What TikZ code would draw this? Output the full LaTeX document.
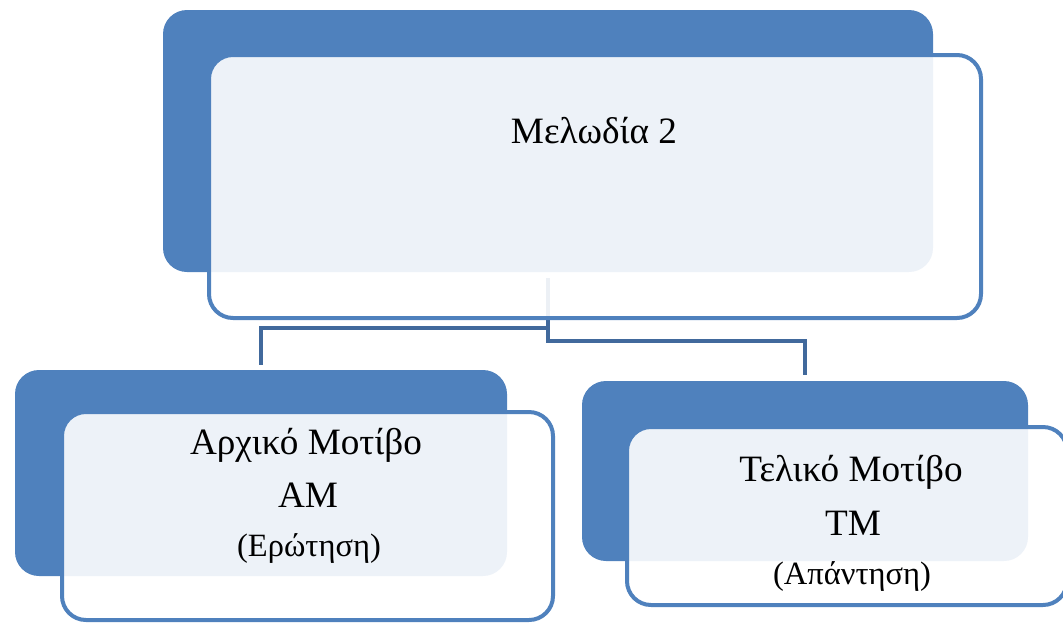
\documentclass[tikz,border=0pt]{standalone}
\usepackage{fontspec}
\setmainfont{Liberation Serif}
\usepackage{tikz}

\definecolor{boxblue}{HTML}{4F81BD}
\definecolor{linkblue}{HTML}{41699C}

\tikzset{
  backbox/.style={rectangle, rounded corners=24pt, fill=boxblue, inner sep=0pt},
  frontbox/.style={rectangle, rounded corners=24pt, draw=boxblue, line width=4pt,
    fill=white, fill opacity=0.9, inner sep=0pt},
  link/.style={draw=linkblue, line width=4.5pt},
  bigtxt/.style={anchor=base, inner sep=0pt, font=\fontsize{37.2}{44}\selectfont},
  smalltxt/.style={anchor=base, inner sep=0pt, font=\fontsize{32.5}{38}\selectfont}
}

\begin{document}
\begin{tikzpicture}[x=1pt,y=-1pt]
\useasboundingbox (0,0) rectangle (1063,625);

% back boxes
\node[backbox, minimum width=770pt, minimum height=262pt] (mback) at (548,141){};
\node[backbox, minimum width=492pt, minimum height=206pt] (lback) at (261,473){};
\node[backbox, minimum width=446pt, minimum height=180pt] (rback) at (805,471){};

% connectors
\coordinate (mout) at (548,278);
\coordinate (lin) at ([yshift=5pt]lback.north);
\coordinate (rin) at ([yshift=6pt]rback.north);
\draw[link] (mout) -- (548,328) -| (lin);
\draw[link] (548,326) |- (805,341) -- (rin);

% front boxes
\node[frontbox, minimum width=772pt, minimum height=263pt] (mfront) at (595,186.5){};
\node[frontbox, minimum width=491pt, minimum height=208pt] (lfront) at (307.5,516){};
\node[frontbox, minimum width=440pt, minimum height=178pt] (rfront) at (847,516){};

% texts
\node[bigtxt] (mtxt) at (594,143) {Μελωδία 2};

\node[bigtxt] (ltxt1) at (306,454) {Αρχικό Μοτίβο};
\node[bigtxt] (ltxt2) at (308,507) {ΑΜ};
\node[smalltxt] (ltxt3) at (309,556) {(Ερώτηση)};

\node[bigtxt] (rtxt1) at (851,481) {Τελικό Μοτίβο};
\node[bigtxt] (rtxt2) at (853,535) {ΤΜ};
\node[smalltxt] (rtxt3) at (852,584) {(Απάντηση)};
\end{tikzpicture}
\end{document}
